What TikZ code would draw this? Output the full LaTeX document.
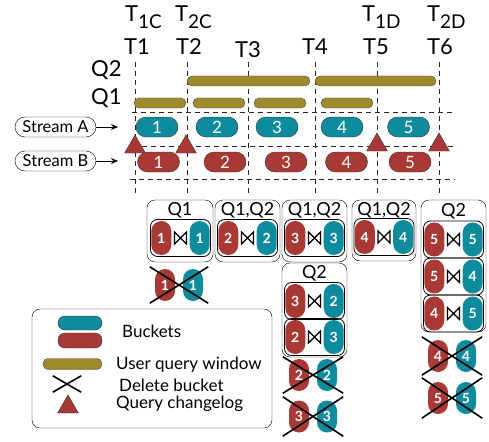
\documentclass[tikz,border=0pt]{standalone}
\usepackage{fontspec}
\setmainfont{Lato}
\usetikzlibrary{arrows.meta,positioning,shapes.geometric}
\definecolor{bkta}{RGB}{14,139,156}
\definecolor{bktb}{RGB}{168,57,52}
\definecolor{qwin}{RGB}{158,138,42}
\newcommand{\tsubs}[1]{\raisebox{-7pt}{\fontsize{19}{19}\selectfont #1}}

\begin{document}
\begin{tikzpicture}[x=1pt,y=-1pt]
\tikzset{gd/.style={draw=black!85,thick,dash pattern=on 5pt off 4pt}}
\tikzset{bka/.style={draw=black!80,fill=bkta,text=white,rounded corners=10pt,minimum width=42pt,minimum height=20pt,inner sep=0pt,font=\fontsize{17}{17}\selectfont}}
\tikzset{bkb/.style={bka,fill=bktb}}
\tikzset{win/.style={draw=black!70,fill=qwin,rounded corners=5pt,minimum height=10pt,inner sep=0pt}}
\tikzset{chg/.style={regular polygon,regular polygon sides=3,draw=black!80,fill=bktb,minimum size=24pt,inner sep=0pt}}
\tikzset{rp/.style={fill=bktb,text=white,rounded corners=10pt,minimum width=20pt,minimum height=34pt,inner sep=0pt,font=\fontsize{14}{14}\selectfont\bfseries}}
\tikzset{tp/.style={rp,fill=bkta}}
\tikzset{dp/.style={rp,minimum height=32pt}}
\tikzset{dq/.style={dp,fill=bkta}}
\tikzset{jbox/.style={draw,thick,rounded corners=7pt,minimum width=60pt,minimum height=37pt,inner sep=0pt}}
\tikzset{qbox/.style={draw,rounded corners=8pt,inner sep=0pt}}
\tikzset{qlab/.style={font=\fontsize{18}{18}\selectfont,inner sep=0pt}}
\tikzset{del/.style={minimum width=60pt,minimum height=37pt,inner sep=0pt}}
\tikzset{xl/.style={draw=black,line width=1.6pt}}
\tikzset{bt/.style={draw=black,line width=1.1pt,line join=miter}}
\tikzset{stl/.style={draw,rounded corners=10pt,minimum width=81pt,minimum height=20pt,inner sep=1pt,font=\fontsize{16.5}{16.5}\selectfont}}

\useasboundingbox (0,0) rectangle (489,441);

\foreach \x in {135,187,248,315,377,439} \draw[gd] (\x,62) -- (\x,196);
\draw[gd] (132,112) -- (453,112);
\draw[gd] (142,146) -- (455,146);
\draw[gd] (130,179) -- (455,179);

\begin{scope}[every node/.style={anchor=base west,inner sep=0pt,font=\fontsize{22}{22}\selectfont}]
\node (t1c) at (125,22) {T\tsubs{1C}};
\node (t2c) at (175,22) {T\tsubs{2C}};
\node (t1d) at (362,22) {T\tsubs{1D}};
\node (t2d) at (427,22) {T\tsubs{2D}};
\node (t1) at (124,55) {T1};
\node (t2) at (176,55) {T2};
\node (t3) at (235,58) {T3};
\node (t4) at (302,55) {T4};
\node (t5) at (363,55) {T5};
\node (t6) at (427,55) {T6};
\node (q2) at (91,77) {Q2};
\node (q1) at (91,105) {Q1};
\end{scope}

\node [win,minimum width=123pt] (w21) at (248.5,81) {};
\node [win,minimum width=121pt] (w22) at (375.5,81) {};
\node [win,minimum width=52pt] (w11) at (160,103) {};
\node [win,minimum width=52pt] (w12) at (219,103) {};
\node [win,minimum width=52pt] (w13) at (280,103) {};
\node [win,minimum width=52pt] (w14) at (347,103) {};

\node [stl] (sa) at (55.5,127) {Stream A};
\node [stl] (sb) at (55.5,161) {Stream B};
\coordinate (ea) at (118,127);
\coordinate (eb) at (118,161);
\draw [-{Stealth[length=7pt,width=6pt]},thick] (sa) -- (ea);
\draw [-{Stealth[length=7pt,width=6pt]},thick] (sb) -- (eb);

\node [bka] (a1) at (157,127) {1};
\node [bka] (a2) at (217,127) {2};
\node [bka] (a3) at (277,127) {3};
\node [bka] (a4) at (342,127) {4};
\node [bka] (a5) at (408.5,127) {5};
\node [bkb] (b1) at (158.5,162) {1};
\node [bkb] (b2) at (225,162) {2};
\node [bkb] (b3) at (286,162) {3};
\node [bkb] (b4) at (346.5,162) {4};
\node [bkb] (b5) at (410,162) {5};

\node [chg] (c1) at (135,147) {};
\node [chg] (c2) at (186,147) {};
\node [chg] (c3) at (377,145) {};
\node [chg] (c4) at (439,145) {};

\node [qbox,minimum width=66pt,minimum height=62pt] (j1) at (180,231) {};
\node [qbox,minimum width=65pt,minimum height=62pt] (j2) at (247.5,231) {};
\node [qbox,minimum width=65pt,minimum height=62pt] (j3) at (314.5,231) {};
\node [qbox,minimum width=64pt,minimum height=61pt] (j4) at (384,230.5) {};
\node [qbox,minimum width=65pt,minimum height=132pt] (j5) at (453.5,266) {};
\node [qbox,minimum width=65pt,minimum height=94pt] (j6) at (314.5,310) {};
\node [qlab] (j1l) at (180,210) {Q1};
\node [qlab] (j2l) at (247.5,210) {Q1,Q2};
\node [qlab] (j3l) at (314.5,210) {Q1,Q2};
\node [qlab] (j4l) at (384,210) {Q1,Q2};
\node [qlab] (j5l) at (453.5,211) {Q2};
\node [qlab] (j6l) at (314.5,273) {Q2};

\node [jbox] (p1) at (180.5,238) {};
\node [rp,anchor=west] (p1a) at ([xshift=1pt]p1.west) {1};
\node [tp,anchor=east] (p1b) at ([xshift=-1pt]p1.east) {1};
\node [jbox] (p2) at (247.5,238) {};
\node [rp,anchor=west] (p2a) at ([xshift=1pt]p2.west) {2};
\node [tp,anchor=east] (p2b) at ([xshift=-1pt]p2.east) {2};
\node [jbox] (p3) at (314.5,238) {};
\node [rp,anchor=west] (p3a) at ([xshift=1pt]p3.west) {3};
\node [tp,anchor=east] (p3b) at ([xshift=-1pt]p3.east) {3};
\node [jbox] (p4) at (384,237) {};
\node [rp,anchor=west] (p4a) at ([xshift=1pt]p4.west) {4};
\node [tp,anchor=east] (p4b) at ([xshift=-1pt]p4.east) {4};
\node [jbox] (p5) at (453.5,239.5) {};
\node [rp,anchor=west] (p5a) at ([xshift=1pt]p5.west) {5};
\node [tp,anchor=east] (p5b) at ([xshift=-1pt]p5.east) {5};
\node [jbox] (p6) at (453.5,276.5) {};
\node [rp,anchor=west] (p6a) at ([xshift=1pt]p6.west) {5};
\node [tp,anchor=east] (p6b) at ([xshift=-1pt]p6.east) {4};
\node [jbox] (p7) at (453.5,313.5) {};
\node [rp,anchor=west] (p7a) at ([xshift=1pt]p7.west) {4};
\node [tp,anchor=east] (p7b) at ([xshift=-1pt]p7.east) {5};
\node [jbox] (p8) at (314.5,301) {};
\node [rp,anchor=west] (p8a) at ([xshift=1pt]p8.west) {3};
\node [tp,anchor=east] (p8b) at ([xshift=-1pt]p8.east) {2};
\node [jbox] (p9) at (314.5,337) {};
\node [rp,anchor=west] (p9a) at ([xshift=1pt]p9.west) {2};
\node [tp,anchor=east] (p9b) at ([xshift=-1pt]p9.east) {3};
\foreach \p in {p1,p2,p3,p4,p5,p6,p7,p8,p9}
  \draw [bt] ([shift={(-6,-6)}]\p.center) -- ([shift={(6,6)}]\p.center) -- ([shift={(6,-6)}]\p.center) -- ([shift={(-6,6)}]\p.center) -- cycle;

\node [del,minimum width=58pt,minimum height=36pt] (d1) at (179,285) {};
\node [dp] (d1a) at ([xshift=-14pt]d1.center) {1};
\node [dq] (d1b) at ([xshift=14pt]d1.center) {1};
\node [del,minimum height=36pt] (d2) at (313,375) {};
\node [dp] (d2a) at ([xshift=-14pt]d2.center) {2};
\node [dq] (d2b) at ([xshift=14pt]d2.center) {2};
\node [del,minimum height=39pt] (d3) at (313,416.5) {};
\node [dp] (d3a) at ([xshift=-14pt]d3.center) {3};
\node [dq] (d3b) at ([xshift=14pt]d3.center) {3};
\node [del,minimum height=38pt] (d4) at (452,356) {};
\node [dp] (d4a) at ([xshift=-14pt]d4.center) {4};
\node [dq] (d4b) at ([xshift=14pt]d4.center) {4};
\node [del,minimum height=40pt] (d5) at (452,398) {};
\node [dp] (d5a) at ([xshift=-14pt]d5.center) {5};
\node [dq] (d5b) at ([xshift=14pt]d5.center) {5};
\foreach \d in {d1,d2,d3,d4,d5}
  \draw [xl] (\d.north west) -- (\d.south east) (\d.south west) -- (\d.north east);

\node [qbox,minimum width=240pt,minimum height=119pt] (leg) at (152,368.5) {};
\node [bka,minimum width=44pt,minimum height=14pt,rounded corners=7pt] (lga) at (80,323) {};
\node [bkb,minimum width=44pt,minimum height=15pt,rounded corners=7pt] (lgb) at (80,340.5) {};
\node [win,minimum width=59pt,minimum height=11pt] (lgw) at (72.5,364) {};
\node [del,minimum width=28pt,minimum height=16pt] (lgx) at (67,384) {};
\draw [xl] (lgx.north west) -- (lgx.south east) (lgx.south west) -- (lgx.north east);
\node [chg] (lgt) at (68,407) {};
\begin{scope}[every node/.style={anchor=west,inner sep=0pt,font=\fontsize{17}{17}\selectfont}]
\node (lg1) at (122,331) {Buckets};
\node (lg2) at (116,365) {User query window};
\node (lg3) at (119,385) {Delete bucket};
\node (lg4) at (116,404) {Query changelog};
\end{scope}

\end{tikzpicture}
\end{document}
